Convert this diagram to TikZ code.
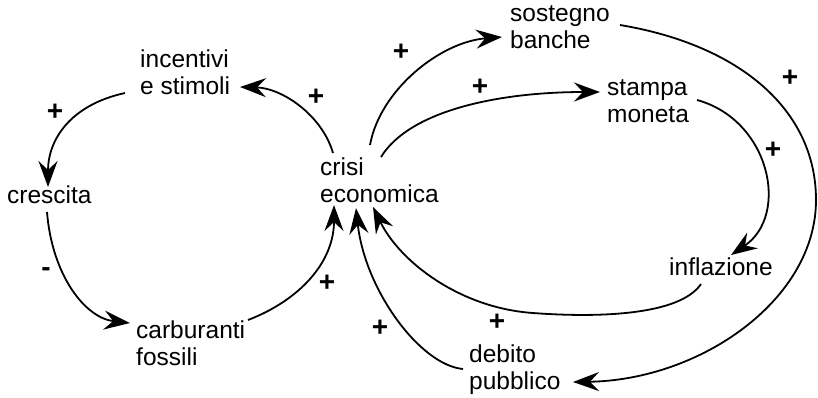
\documentclass[tikz,border=0pt]{standalone}
\usepackage{fontspec}
\setmainfont{Liberation Sans}
\usetikzlibrary{arrows.meta,calc}
\tikzset{
  lbl/.style={inner sep=0pt,anchor=base west,align=left,font=\fontsize{24.5}{27}\selectfont},
  sgn/.style={inner sep=0pt,font=\fontsize{28}{28}\selectfont\bfseries},
  conn/.style={line width=1.8pt,-{Stealth[length=26pt,width=19pt,inset=9pt]}},
  plain/.style={line width=1.8pt}
}
\begin{document}
\begin{tikzpicture}[x=1pt,y=-1pt]
\useasboundingbox (0,0) rectangle (818,397);
\node[lbl] (inc) at (140,94) {incentivi\\e stimoli};
\node[lbl] (cres) at (7,203) {crescita};
\node[lbl] (crisi) at (320,202) {crisi\\economica};
\node[lbl] (carb) at (136,365) {carburanti\\fossili};
\node[lbl] (sost) at (510,48) {sostegno\\banche};
\node[lbl] (stampa) at (607,122) {stampa\\moneta};
\node[lbl] (infl) at (669,275) {inflazione};
\node[lbl] (debito) at (469,389) {debito\\pubblico};
% crisi -> incentivi
\draw[conn] ($(crisi.base west)+(13,-49)$) .. controls (322,115) and (282,88) .. ($(inc.base west)+(100,-7)$);
\node[sgn] (l1) at (316,97) {+};
% incentivi -> crescita
\draw[conn] ($(inc.base west)+(-15,-1)$) .. controls (70,105) and (48,140) .. ($(cres.base west)+(41,-16)$);
\node[sgn] (l2) at (55,112) {+};
% crescita -> carburanti
\draw[conn] ($(cres.base west)+(40,9)$) .. controls (52,275) and (85,318) .. ($(carb.base west)+(-6,-42)$);
\node[sgn] (l3) at (46,272) {-};
% carburanti -> crisi
\draw[conn] ($(carb.base west)+(112,-45)$) .. controls (300,300) and (334,262) .. ($(crisi.base west)+(14,3)$);
\node[sgn] (l4) at (327,283) {+};
% debito -> crisi
\draw[conn] ($(debito.base west)+(-6,-20)$) .. controls (420,365) and (365,290) .. ($(crisi.base west)+(36,6)$);
\node[sgn] (l5) at (380,328) {+};
% inflazione -> crisi
\coordinate (bot) at (533,313);
\draw[plain] ($(infl.base west)+(32,9)$) .. controls (680,315) and (600,318) .. (bot);
\draw[conn] (bot) .. controls (460,308) and (400,262) .. ($(crisi.base west)+(53,5)$);
\node[sgn] (l6) at (497,322) {+};
% crisi -> sostegno
\draw[conn] ($(crisi.base west)+(50,-57)$) .. controls (380,90) and (440,42) .. ($(sost.base west)+(-8,-11)$);
\node[sgn] (l7) at (401,52) {+};
% crisi -> stampa
\draw[conn] ($(crisi.base west)+(61,-45)$) .. controls (410,110) and (500,92) .. ($(stampa.base west)+(-7,-30)$);
\node[sgn] (l8) at (480,87) {+};
% stampa -> inflazione
\draw[conn] ($(stampa.base west)+(90,-22)$) .. controls (770,120) and (790,215) .. ($(infl.base west)+(62,-20)$);
\node[sgn] (l9) at (773,150) {+};
% sostegno -> debito
\coordinate (rt) at (816,200);
\draw[plain] ($(sost.base west)+(110,-23)$) .. controls (740,45) and (816,110) .. (rt);
\draw[conn] (rt) .. controls (816,300) and (700,380) .. ($(debito.base west)+(104,-7)$);
\node[sgn] (l10) at (790,78) {+};
\end{tikzpicture}
\end{document}
